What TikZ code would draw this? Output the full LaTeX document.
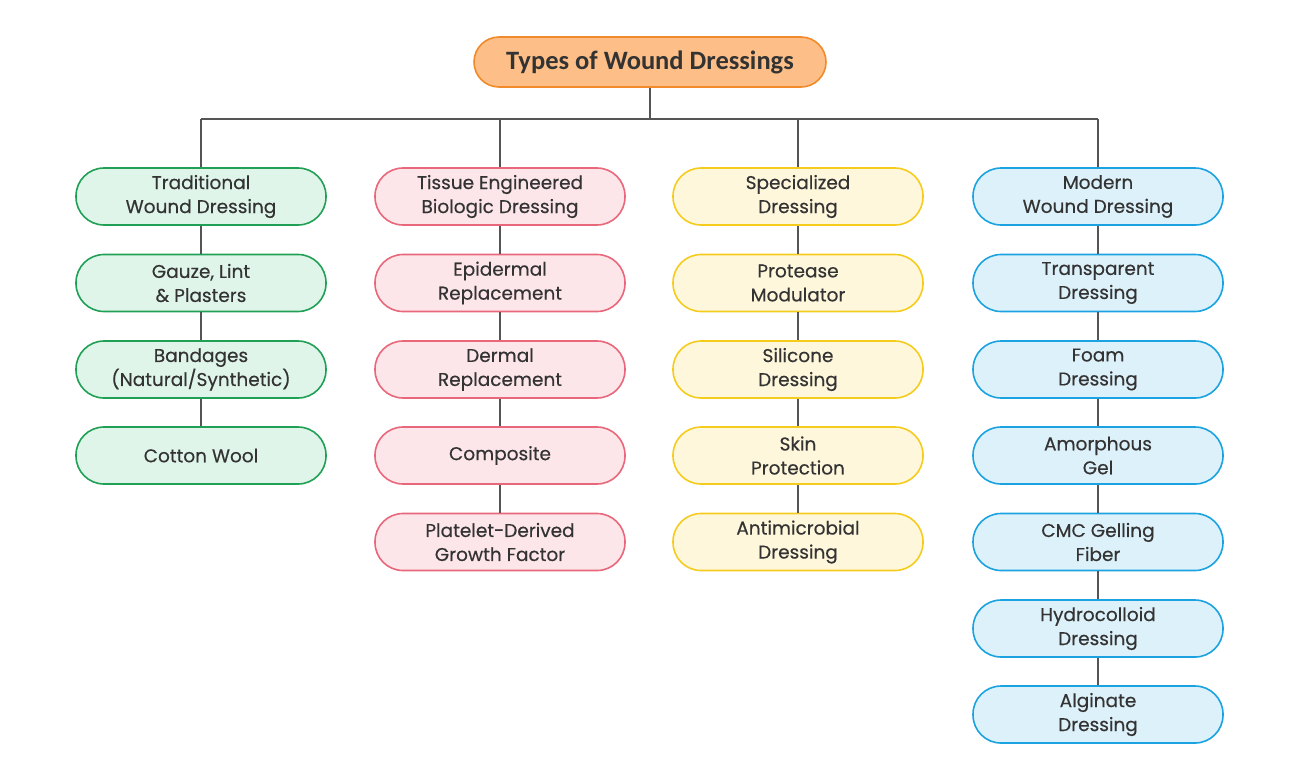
\documentclass[tikz,border=0pt]{standalone}
\usepackage{fontspec}
\setmainfont{Poppins}
\newfontfamily\nodefont{Poppins}[FakeBold=0.35]
\newfontfamily\titlefont{Carlito}
\definecolor{gB}{HTML}{1FA055}\definecolor{gF}{HTML}{E0F5EA}
\definecolor{rB}{HTML}{E8677A}\definecolor{rF}{HTML}{FDE6EA}
\definecolor{yB}{HTML}{F5CC1E}\definecolor{yF}{HTML}{FEF7DC}
\definecolor{bB}{HTML}{1AA3E0}\definecolor{bF}{HTML}{DDF1FA}
\definecolor{oB}{HTML}{F08A2A}\definecolor{oF}{HTML}{FDBF87}
\definecolor{txt}{HTML}{333333}
\definecolor{ln}{HTML}{555555}
\begin{document}
\begin{tikzpicture}[x=1pt,y=-1pt,
  pill/.style={draw, line width=1.6pt, rounded corners=28pt, minimum width=250pt, minimum height=57pt,
    align=center, text=txt, inner sep=0pt, font=\nodefont\fontsize{18.5}{24}\selectfont},
  gbox/.style={pill, draw=gB, fill=gF},
  rbox/.style={pill, draw=rB, fill=rF},
  ybox/.style={pill, draw=yB, fill=yF},
  bbox/.style={pill, draw=bB, fill=bF},
  conn/.style={draw=ln, line width=1.3pt}]
\useasboundingbox (0,0) rectangle (1300,780);
\node[draw=oB, fill=oF, line width=1.6pt, rounded corners=25pt, minimum width=352pt, minimum height=50pt,
  text=txt, font=\titlefont\bfseries\fontsize{26.5}{30}\selectfont] (title) at (650,62) {Types of Wound Dressings};
% column 1
\node[gbox] (a0) at (201,196.5) {Traditional\\Wound Dressing};
\node[gbox] (a1) at (201,283) {Gauze, Lint\\\& Plasters};
\node[gbox] (a2) at (201,369.5) {Bandages\\(Natural/Synthetic)};
\node[gbox] (a3) at (201,455.5) {Cotton Wool};
% column 2
\node[rbox] (b0) at (500,196.5) {Tissue Engineered\\Biologic Dressing};
\node[rbox] (b1) at (500,283) {Epidermal\\Replacement};
\node[rbox] (b2) at (500,369.5) {Dermal\\Replacement};
\node[rbox] (b3) at (500,455.5) {Composite};
\node[rbox] (b4) at (500,542) {Platelet-Derived\\Growth Factor};
% column 3
\node[ybox] (c0) at (798,196.5) {Specialized\\Dressing};
\node[ybox] (c1) at (798,283) {Protease\\Modulator};
\node[ybox] (c2) at (798,369.5) {Silicone\\Dressing};
\node[ybox] (c3) at (798,455.5) {Skin\\Protection};
\node[ybox] (c4) at (798,542) {Antimicrobial\\Dressing};
% column 4
\node[bbox] (d0) at (1098,196.5) {Modern\\Wound Dressing};
\node[bbox] (d1) at (1098,283) {Transparent\\Dressing};
\node[bbox] (d2) at (1098,369.5) {Foam\\Dressing};
\node[bbox] (d3) at (1098,455.5) {Amorphous\\Gel};
\node[bbox] (d4) at (1098,542) {CMC Gelling\\Fiber};
\node[bbox] (d5) at (1098,628.5) {Hydrocolloid\\Dressing};
\node[bbox] (d6) at (1098,714.5) {Alginate\\Dressing};
% bus
\coordinate (bm) at (650,119);
\coordinate (ba) at (201,119);
\coordinate (bb) at (500,119);
\coordinate (bc) at (798,119);
\coordinate (bd) at (1098,119);
\draw[conn] (title.south) -- (bm);
\draw[conn] (ba) -- (bd);
\draw[conn] (ba) -- (a0.north);
\draw[conn] (bb) -- (b0.north);
\draw[conn] (bc) -- (c0.north);
\draw[conn] (bd) -- (d0.north);
\draw[conn] (a0) -- (a1); \draw[conn] (a1) -- (a2); \draw[conn] (a2) -- (a3);
\draw[conn] (b0) -- (b1); \draw[conn] (b1) -- (b2); \draw[conn] (b2) -- (b3); \draw[conn] (b3) -- (b4);
\draw[conn] (c0) -- (c1); \draw[conn] (c1) -- (c2); \draw[conn] (c2) -- (c3); \draw[conn] (c3) -- (c4);
\draw[conn] (d0) -- (d1); \draw[conn] (d1) -- (d2); \draw[conn] (d2) -- (d3); \draw[conn] (d3) -- (d4); \draw[conn] (d4) -- (d5); \draw[conn] (d5) -- (d6);
\end{tikzpicture}
\end{document}
